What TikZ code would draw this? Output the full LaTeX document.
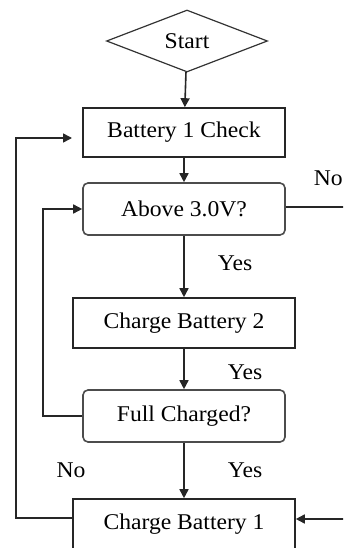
\documentclass[tikz,border=0pt]{standalone}
\usepackage{fontspec}
\setmainfont{Liberation Serif}[FakeStretch=1.05]
\usetikzlibrary{shapes.geometric,arrows.meta,calc}
\begin{document}
\begin{tikzpicture}[x=1pt,y=-1pt,
  font=\fontsize{22.5}{27}\selectfont,
  line width=1.6pt,
  conn/.style={draw=black!85, -{Triangle[length=9pt,width=9pt]}},
  plain/.style={draw=black!85},
  sqbox/.style={draw=black!85, rectangle, inner sep=0pt, minimum height=50pt},
  rbox/.style={draw=black!70, rectangle, rounded corners=5pt, inner sep=0pt, minimum width=202pt, minimum height=52pt},
  lbl/.style={inner sep=0pt}]
\useasboundingbox (0,0) rectangle (343,548);
\clip (0,0) rectangle (343,548);
\node[draw=black!80, line width=1.2pt, diamond, aspect=2.6, inner sep=0pt, minimum width=161pt, minimum height=62pt] (start) at (187,41) {Start};
\node[sqbox, minimum width=202pt, minimum height=49pt] (b1check) at (184,132.5) {Battery 1 Check};
\node[rbox] (above) at (184,209) {Above 3.0V?};
\node[sqbox, minimum width=222pt] (cb2) at (184,323) {Charge Battery 2};
\node[rbox] (full) at (184,416) {Full Charged?};
\node[sqbox, minimum width=222pt] (cb1) at (184,524) {Charge Battery 1};
\node[lbl] (yes1) at (235,263) {Yes};
\node[lbl] (yes2) at (245,372) {Yes};
\node[lbl] (yes3) at (245,470) {Yes};
\node[lbl] (no1) at (71,470) {No};
\node[lbl, anchor=west] (no2) at (313,178) {No};
\coordinate (noend) at (346,207);
\coordinate (rin) at (346,519);
\coordinate (loopin) at (72,138);
\coordinate (xin) at (43,0);
\coordinate (xout) at (16,0);
\draw[conn] (start) -- (b1check);
\draw[conn] (b1check) -- (above);
\draw[conn] (above) -- (cb2);
\draw[conn] (cb2) -- (full);
\draw[conn] (full) -- (cb1);
\draw[plain] (above.east |- noend) -- (noend);
\draw[conn] (rin) -- (cb1.east |- rin);
\draw[conn] (full.west) -- (xin |- full.west) -- (xin |- above.west) -- (above.west);
\draw[conn] (cb1.west |- 0,518) -- (xout |- 0,518) -- (xout |- loopin) -- (loopin);
\end{tikzpicture}
\end{document}
